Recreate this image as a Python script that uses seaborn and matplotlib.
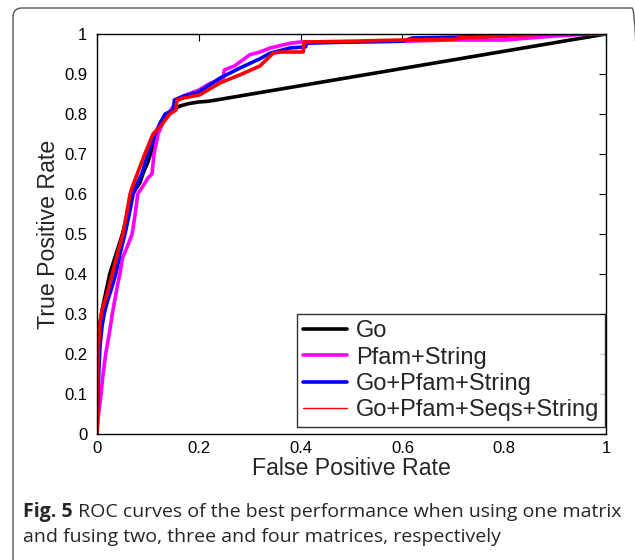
import matplotlib
matplotlib.use("Agg")
import matplotlib.pyplot as plt
import seaborn as sns
import pandas as pd
from matplotlib.patches import FancyBboxPatch

# ---- data ----
go_fpr = [0, 0.002, 0.005, 0.01, 0.015, 0.02, 0.025, 0.035, 0.045, 0.05, 0.06, 0.07, 0.075,
          0.085, 0.09, 0.1, 0.105, 0.118, 0.13, 0.138, 0.15, 0.163, 0.18, 0.2, 0.22, 1.0]
go_tpr = [0, 0.2, 0.27, 0.31, 0.34, 0.37, 0.40, 0.44, 0.48, 0.5, 0.55, 0.6, 0.61,
          0.63, 0.65, 0.68, 0.7, 0.75, 0.78, 0.8, 0.81, 0.82, 0.826, 0.83, 0.832, 1.0]

ps_fpr = [0, 0.003, 0.008, 0.012, 0.017, 0.024, 0.03, 0.04, 0.045, 0.05, 0.06, 0.069, 0.075,
          0.08, 0.094, 0.1, 0.108, 0.112, 0.12, 0.13, 0.14, 0.155, 0.17, 0.2, 0.22, 0.248,
          0.25, 0.27, 0.3, 0.32, 0.34, 0.38, 0.4, 0.5, 0.6, 0.7, 0.8, 0.85, 0.9, 0.97, 1.0]
ps_tpr = [0, 0.05, 0.1, 0.15, 0.2, 0.25, 0.3, 0.37, 0.4, 0.44, 0.47, 0.5, 0.55,
          0.6, 0.627, 0.64, 0.65, 0.7, 0.75, 0.78, 0.8, 0.83, 0.845, 0.86, 0.875, 0.89,
          0.91, 0.92, 0.948, 0.955, 0.965, 0.977, 0.98, 0.98, 0.982, 0.985, 0.985, 0.99, 0.995, 1.0, 1.0]

gps_fpr = [0, 0.002, 0.004, 0.006, 0.01, 0.014, 0.02, 0.03, 0.037, 0.045, 0.055, 0.065, 0.071,
           0.08, 0.088, 0.1, 0.114, 0.125, 0.134, 0.15, 0.152, 0.17, 0.2, 0.242, 0.281, 0.32,
           0.34, 0.379, 0.41, 0.412, 0.5, 0.6, 0.62, 0.7, 0.8, 0.85, 1.0]
gps_tpr = [0, 0.1, 0.17, 0.22, 0.27, 0.3, 0.33, 0.37, 0.4, 0.45, 0.5, 0.56, 0.6,
           0.63, 0.65, 0.7, 0.75, 0.78, 0.8, 0.81, 0.835, 0.845, 0.855, 0.89, 0.915, 0.938,
           0.952, 0.965, 0.968, 0.977, 0.98, 0.982, 0.99, 0.992, 0.995, 1.0, 1.0]

all_fpr = [0, 0.001, 0.003, 0.006, 0.01, 0.015, 0.02, 0.03, 0.04, 0.051, 0.058, 0.065, 0.07,
           0.079, 0.085, 0.094, 0.11, 0.125, 0.143, 0.155, 0.157, 0.17, 0.202, 0.242, 0.281,
           0.32, 0.346, 0.36, 0.405, 0.407, 0.5, 0.6, 0.705, 0.71, 0.8, 0.884, 1.0]
all_tpr = [0, 0.12, 0.22, 0.28, 0.31, 0.33, 0.35, 0.4, 0.45, 0.5, 0.55, 0.6, 0.62,
           0.65, 0.67, 0.7, 0.75, 0.77, 0.8, 0.81, 0.835, 0.84, 0.848, 0.878, 0.898,
           0.92, 0.952, 0.955, 0.955, 0.98, 0.982, 0.985, 0.987, 0.99, 0.995, 1.0, 1.0]

labels = ["Go", "Pfam+String", "Go+Pfam+String", "Go+Pfam+Seqs+String"]
colors = ["#000000", "#ff00ff", "#0000ff", "#ff0000"]
tick_vals = [0, 0.2, 0.4, 0.6, 0.8, 1]
ytick_vals = [0, 0.1, 0.2, 0.3, 0.4, 0.5, 0.6, 0.7, 0.8, 0.9, 1]
caption_bold = "Fig. 5"
caption_line1 = " ROC curves of the best performance when using one matrix"
caption_line2 = "and fusing two, three and four matrices, respectively"

series = [(go_fpr, go_tpr), (ps_fpr, ps_tpr), (gps_fpr, gps_tpr), (all_fpr, all_tpr)]
frames = []
for lab, (fx, fy) in zip(labels, series):
    frames.append(pd.DataFrame({"fpr": fx, "tpr": fy, "method": lab, "order": range(len(fx))}))
df = pd.concat(frames, ignore_index=True)

sns.set_style("white")
plt.rcParams["font.family"] = ["Liberation Sans", "DejaVu Sans"]

fig = plt.figure(figsize=(6.35, 5.6), dpi=100)
ax = fig.add_axes([97 / 635, 1 - 434 / 560, 509 / 635, 400 / 560])

sns.lineplot(data=df, x="fpr", y="tpr", hue="method", hue_order=labels,
             palette=dict(zip(labels, colors)), sort=False, estimator=None,
             units="method", linewidth=2.6, ax=ax)

ax.set_xlim(0, 1)
ax.set_ylim(0, 1)
ax.set_xticks(tick_vals)
ax.set_xticklabels([f"{v:g}" for v in tick_vals])
ax.set_yticks(ytick_vals)
ax.set_yticklabels([f"{v:g}" for v in ytick_vals])
ax.tick_params(direction="in", length=5, width=0.8, top=True, right=True,
               labelsize=12, colors="black")
ax.tick_params(axis="y", pad=7)
ax.tick_params(axis="x", pad=5)
for s in ax.spines.values():
    s.set_color("black")
    s.set_linewidth(1.0)
ax.set_xlabel("False Positive Rate", fontsize=16.7, labelpad=1)
ax.set_ylabel("True Positive Rate", fontsize=16.7, labelpad=3)

leg = ax.legend(loc="lower right", bbox_to_anchor=(0.998, 0.0175), borderaxespad=0,
                fontsize=17, frameon=True, fancybox=False, edgecolor="black",
                handlelength=1.9, handletextpad=0.35, labelspacing=0.18, borderpad=0.25)
leg.get_frame().set_linewidth(1.0)
for i, h in enumerate(leg.get_lines()):
    h.set_linewidth(2.6 if i < 3 else 1.0)

# caption
cap_size = 14.0
b = fig.text(23 / 635, 1 - 517 / 560, caption_bold, fontsize=cap_size, fontweight="bold",
             family="Open Sans", va="baseline", ha="left")
fig.canvas.draw()
bb = b.get_window_extent(fig.canvas.get_renderer())
fig.text(bb.x1 / 635, 1 - 517 / 560, caption_line1, fontsize=cap_size, family="Open Sans",
         va="baseline", ha="left")
fig.text(23 / 635, 1 - 542 / 560, caption_line2, fontsize=cap_size, family="Open Sans",
         va="baseline", ha="left")

# rounded frame around the figure (inch coordinates)
frame = FancyBboxPatch((0.13, -0.3), 6.41 - 0.13, 5.52 + 0.3,
                       boxstyle="round,pad=0,rounding_size=0.09", transform=fig.dpi_scale_trans,
                       fill=False, edgecolor="#555555", linewidth=1.0, clip_on=False)
fig.patches.append(frame)

fig.savefig("out.png", dpi=100)
